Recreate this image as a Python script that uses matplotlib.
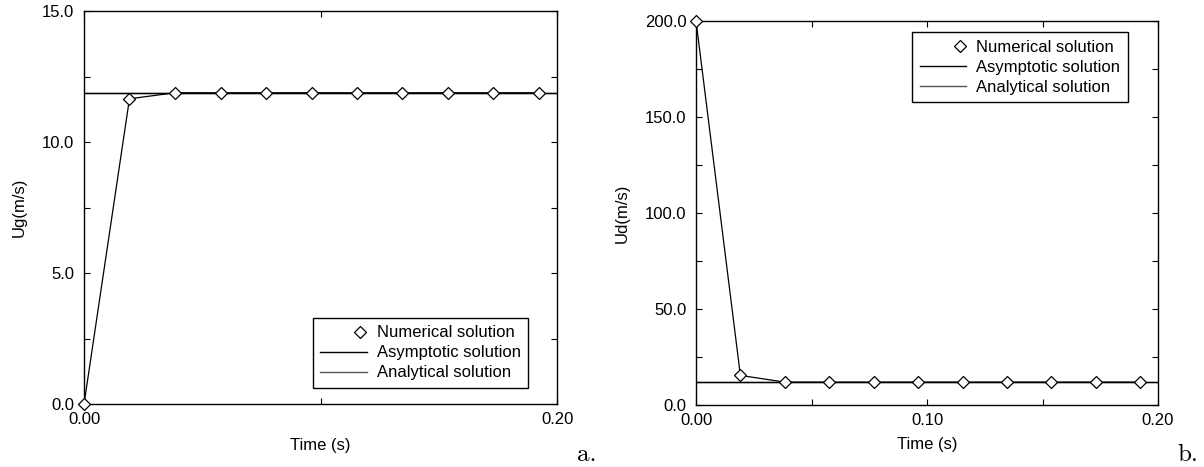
import matplotlib
matplotlib.use("Agg")
import matplotlib.pyplot as plt
import numpy as np
from matplotlib.lines import Line2D
from matplotlib.legend_handler import HandlerLine2D
from matplotlib.ticker import FixedLocator, FormatStrFormatter

plt.rcParams['font.family'] = ['Liberation Sans', 'DejaVu Sans']

# --- data ---
time = [0.0, 0.0192, 0.0385, 0.0577, 0.0769, 0.0962, 0.1154, 0.1346, 0.1538, 0.1731, 0.1923]
ug_num = [0.0, 11.65, 11.88, 11.88, 11.88, 11.88, 11.88, 11.88, 11.88, 11.88, 11.88]
ud_num = [200.0, 15.4, 11.9, 11.9, 11.9, 11.9, 11.9, 11.9, 11.9, 11.9, 11.9]
ug_asym = 11.88
ud_asym = 11.88
t_span = [0.0, 0.2]

labels = ["Numerical solution", "Asymptotic solution", "Analytical solution"]


class MarkerAtEnd(HandlerLine2D):
    # single legend marker sitting near the right end of the handle
    def get_xdata(self, legend, xdescent, ydescent, width, height, fontsize):
        x = np.array([-xdescent + width - 0.4 * fontsize])
        return x, x


def style_axes(ax, xmajor, xminor, ymajor, yminor, xfmt, yfmt):
    ax.xaxis.set_major_locator(FixedLocator(xmajor))
    ax.xaxis.set_minor_locator(FixedLocator(xminor))
    ax.yaxis.set_major_locator(FixedLocator(ymajor))
    ax.yaxis.set_minor_locator(FixedLocator(yminor))
    ax.xaxis.set_major_formatter(FormatStrFormatter(xfmt))
    ax.yaxis.set_major_formatter(FormatStrFormatter(yfmt))
    ax.tick_params(which='both', direction='in', top=True, right=True,
                   length=4, width=0.8, labelsize=12)
    ax.tick_params(axis='y', which='major', pad=7)
    ax.tick_params(axis='x', which='major', pad=6)
    for sp in ax.spines.values():
        sp.set_linewidth(1.0)
        sp.set_color('black')


def draw_panel(ax, y_num, y_asym):
    ax.plot(t_span, [y_asym, y_asym], color='#555555', lw=1.0, zorder=2)
    ax.plot(t_span, [y_asym, y_asym], color='black', lw=1.0, zorder=2)
    ax.plot(time, y_num, color='black', lw=0.9, marker='D', ms=6.5,
            mfc='white', mec='black', mew=0.9, clip_on=False, zorder=3)


def add_legend(ax, loc, anchor):
    h_num = Line2D([], [], ls='none', marker='D', ms=6.5, mfc='white', mec='black', mew=0.9)
    h_asym = Line2D([], [], color='black', lw=1.0)
    h_ana = Line2D([], [], color='#555555', lw=1.0)
    leg = ax.legend([h_num, h_asym, h_ana], labels, loc=loc, bbox_to_anchor=anchor,
                    handler_map={h_num: MarkerAtEnd(numpoints=2)},
                    fontsize=12, handlelength=2.8, handletextpad=0.6,
                    borderpad=0.45, labelspacing=0.3, borderaxespad=0,
                    fancybox=False, framealpha=1, edgecolor='black')
    leg.get_frame().set_linewidth(1.0)


fig = plt.figure(figsize=(12.04, 4.67), dpi=100)

# panel a
ax1 = fig.add_axes([0.0698, 0.1349, 0.3929, 0.8415])
draw_panel(ax1, ug_num, ug_asym)
ax1.set_xlim(0, 0.2)
ax1.set_ylim(0, 15)
style_axes(ax1, [0.0, 0.2], [0.1], [0, 5, 10, 15], [2.5, 7.5, 12.5], '%.2f', '%.1f')
ax1.set_xlabel("Time (s)", fontsize=12, labelpad=8)
ax1.set_ylabel("Ug(m/s)", fontsize=12, labelpad=11)
add_legend(ax1, 'lower right', (0.939, 0.041))

# panel b
ax2 = fig.add_axes([0.5781, 0.1328, 0.3837, 0.8223])
draw_panel(ax2, ud_num, ud_asym)
ax2.set_xlim(0, 0.2)
ax2.set_ylim(0, 200)
style_axes(ax2, [0.0, 0.1, 0.2], [0.05, 0.15], [0, 50, 100, 150, 200],
           [25, 75, 125, 175], '%.2f', '%.1f')
ax2.set_xlabel("Time (s)", fontsize=12, labelpad=6)
ax2.set_ylabel("Ud(m/s)", fontsize=12, labelpad=11)
add_legend(ax2, 'upper right', (0.935, 0.971))

fig.text(0.479, 0.013, "a.", fontname='cmr10', fontsize=18, va='baseline')
fig.text(0.978, 0.013, "b.", fontname='cmr10', fontsize=18, va='baseline')

fig.savefig("out.png", dpi=100, facecolor='white')
